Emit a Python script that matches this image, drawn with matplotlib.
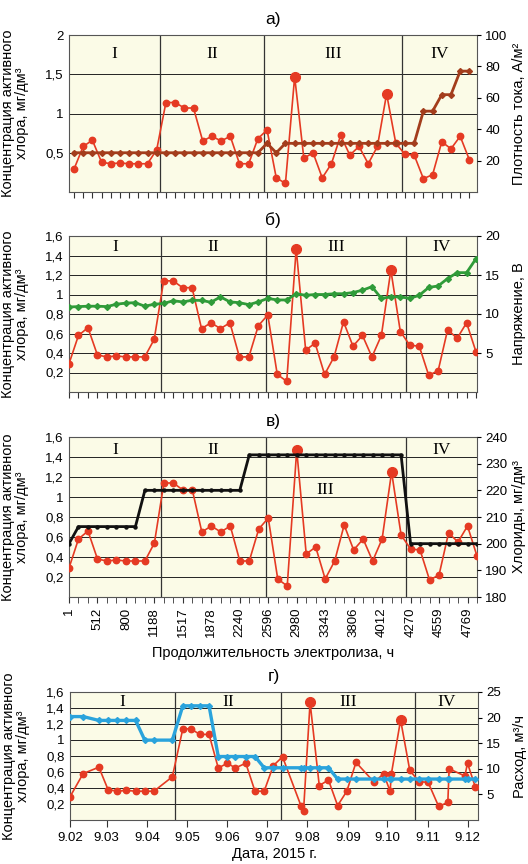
import numpy as np
import matplotlib
matplotlib.use("Agg")
import matplotlib.pyplot as plt
import matplotlib.dates as mdates
from matplotlib.ticker import FuncFormatter

plt.rcParams['font.family'] = ['Liberation Sans', 'DejaVu Sans']

# active chlorine, mg/dm3 (same samples in all four panels)
chlorine = [0.29, 0.58, 0.66, 0.38, 0.36, 0.37, 0.36, 0.36, 0.36, 0.54,
            1.14, 1.14, 1.07, 1.07, 0.65, 0.71, 0.65, 0.71, 0.36, 0.36,
            0.68, 0.79, 0.18, 0.11, 1.47, 0.43, 0.50, 0.18, 0.36, 0.72,
            0.47, 0.58, 0.36, 0.58, 1.25, 0.62, 0.48, 0.47, 0.17, 0.22,
            0.64, 0.55, 0.71, 0.41]
big_points = [24, 34]

# current density, A/m2
current_density = [25] * 21 + [31, 25] + [31] * 15 + [51.5, 51.5, 62, 62, 77, 77]

# voltage, V
voltage = [10.9, 10.95, 11.0, 11.0, 10.95, 11.25, 11.4, 11.45, 11.0, 11.25,
           11.35, 11.7, 11.55, 11.75, 11.75, 11.5, 12.2, 11.55, 11.45, 11.2,
           11.55, 12.0, 11.8, 11.8, 12.6, 12.4, 12.5, 12.5, 12.6, 12.6,
           12.75, 13.05, 13.5, 12.0, 12.2, 12.2, 12.0, 12.4, 13.4, 13.6,
           14.55, 15.3, 15.3, 17.1]

# chlorides, mg/dm3
chlorides = [200] + [206.4] * 7 + [220] * 11 + [233.3] * 17 + [200] * 8

# flow, m3/h
flow = [20.2, 20.2] + [19.45] * 5 + [15.6] * 3 + [22.3] * 4 + [12.4] * 5 + [10.2] * 8 + [8.0] * 17

sample_dates = ['2015-02-09', '2015-02-19', '2015-03-03', '2015-03-10', '2015-03-17',
                '2015-03-24', '2015-03-31', '2015-04-07', '2015-04-14', '2015-04-28',
                '2015-05-06', '2015-05-12', '2015-05-19', '2015-05-26', '2015-06-02',
                '2015-06-09', '2015-06-15', '2015-06-23', '2015-06-30', '2015-07-07',
                '2015-07-14', '2015-07-21', '2015-08-04', '2015-08-06', '2015-08-11',
                '2015-08-18', '2015-08-25', '2015-09-01', '2015-09-08', '2015-09-15',
                '2015-09-29', '2015-10-06', '2015-10-11', '2015-10-12', '2015-10-19',
                '2015-10-26', '2015-11-02', '2015-11-09', '2015-11-17', '2015-11-24',
                '2015-11-25', '2015-12-07', '2015-12-09', '2015-12-15']

hours_labels = ['1', '512', '800', '1188', '1517', '1878', '2240', '2596',
                '2980', '3343', '3806', '4012', '4270', '4559', '4769']

phases = ['I', 'II', 'III', 'IV']
phase_bounds_idx = {'a': [9.4, 20.7, 35.7], 'b': [9.7, 20.85, 35.6], 'v': [9.7, 20.8, 35.5]}
phase_bounds_date = ['2015-04-30', '2015-07-20', '2015-10-30']

RED = '#e53a23'
BG = '#fbfbe7'
YLABEL = 'Концентрация активного\nхлора, мг/дм³'

comma = FuncFormatter(lambda v, p: ('%g' % v).replace('.', ','))

fig = plt.figure(figsize=(5.28, 8.64), dpi=100)


def make_axes(left, right, top, bottom):
    W, H = 528, 864
    return fig.add_axes([left / W, 1 - bottom / H, (right - left) / W, (bottom - top) / H])


def style_left(ax, ymax, ticks):
    ax.set_facecolor(BG)
    ax.set_ylim(0, ymax)
    ax.set_yticks(ticks)
    ax.yaxis.set_major_formatter(comma)
    ax.grid(axis='y', color='#222222', lw=0.7)
    ax.set_axisbelow(True)
    ax.tick_params(axis='y', labelsize=9.5, length=0, pad=4)
    ax.set_ylabel(YLABEL, fontsize=10.5, linespacing=1.0)
    ax.yaxis.set_label_coords(-0.098, 0.5)
    for s in ax.spines.values():
        s.set_color('#555555')
        s.set_linewidth(0.8)


def style_right(ax2, lo, hi, ticks, label):
    ax2.set_ylim(lo, hi)
    ax2.set_yticks(ticks)
    ax2.tick_params(axis='y', labelsize=9.5, length=3, pad=3)
    ax2.set_ylabel(label, fontsize=10.5)
    ax2.yaxis.set_label_coords(1.085, 0.5)
    for s in ax2.spines.values():
        s.set_visible(False)


def plot_red(ax, x):
    ax.plot(x, chlorine, color=RED, lw=1.2, marker='o', ms=4.6, zorder=3)
    bx = [x[i] for i in big_points]
    by = [chlorine[i] for i in big_points]
    ax.plot(bx, by, ls='none', marker='o', ms=7, color=RED, zorder=3)


def phase_lines(ax, bounds, xlim, ypos, xpos=None):
    for b in bounds:
        ax.axvline(b, color='#333333', lw=0.9, zorder=2)
    edges = [xlim[0]] + list(bounds) + [xlim[1]]
    for k, name in enumerate(phases):
        cx = (edges[k] + edges[k + 1]) / 2 if xpos is None or xpos[k] is None else xpos[k]
        ax.text(cx, ypos[k], name, family='Liberation Serif', fontsize=12.5,
                ha='center', va='center', zorder=4)


idx = np.arange(len(chlorine))

# ---- а) current density
ax = make_axes(69, 477, 35, 192)
xl = (-0.54, 43.83)
style_left(ax, 2, [0.5, 1, 1.5, 2])
plot_red(ax, idx)
ax.set_xlim(*xl)
ax.set_xticks(idx)
ax.tick_params(axis='x', labelbottom=False, length=4, direction='out', color='#333333')
phase_lines(ax, phase_bounds_idx['a'], xl, [1.76] * 4)
ax.set_title('а)', fontsize=12.5, pad=8)
ax2 = ax.twinx()
ax2.plot(idx, current_density, color='#a33d1c', lw=2, marker='D', ms=3, zorder=4)
style_right(ax2, 0, 100, [20, 40, 60, 80, 100], 'Плотность тока, А/м²')
ax2.set_xlim(*xl)

# ---- б) voltage
ax = make_axes(69, 477, 236, 392)
xl = (0, 43.1)
style_left(ax, 1.6, np.arange(0.2, 1.61, 0.2).round(1))
plot_red(ax, idx)
ax.set_xlim(*xl)
ax.set_xticks(idx)
ax.tick_params(axis='x', labelbottom=False, length=4, direction='out', color='#333333')
phase_lines(ax, phase_bounds_idx['b'], xl, [1.49] * 4)
ax.set_title('б)', fontsize=12.5, pad=8)
ax2 = ax.twinx()
ax2.plot(idx, voltage, color='#2f9b39', lw=2, marker='D', ms=3, zorder=4)
style_right(ax2, 0, 20, [5, 10, 15, 20], 'Напряжение, В')
ax2.set_xlim(*xl)

# ---- в) chlorides
ax = make_axes(69, 477, 437, 597)
xl = (0, 43)
style_left(ax, 1.6, np.arange(0.2, 1.61, 0.2).round(1))
plot_red(ax, idx)
ax.set_xlim(*xl)
ax.set_xticks(idx, minor=True)
ax.set_xticks(idx[::3])
ax.set_xticklabels(hours_labels, rotation=90, fontsize=9.5)
ax.tick_params(axis='x', which='both', length=4, direction='out', color='#333333')
phase_lines(ax, phase_bounds_idx['v'], xl, [1.47, 1.47, 1.07, 1.47], xpos=[None, None, 27.0, None])
ax.set_title('в)', fontsize=12.5, pad=8)
ax.set_xlabel('Продолжительность электролиза, ч', fontsize=10.5, labelpad=6)
ax2 = ax.twinx()
ax2.plot(idx, chlorides, color='#111111', lw=2, marker='o', ms=2.2, zorder=4)
style_right(ax2, 180, 240, [180, 190, 200, 210, 220, 230, 240], 'Хлориды, мг/дм³')
ax2.set_xlim(*xl)

# ---- г) flow, by date
dates = mdates.date2num(np.array(sample_dates, dtype='datetime64[D]'))
ax = make_axes(70, 478, 692, 820)
xl = tuple(mdates.date2num(np.array(['2015-02-09', '2015-12-17'], dtype='datetime64[D]')))
style_left(ax, 1.6, np.arange(0.2, 1.61, 0.2).round(1))
plot_red(ax, dates)
ax.set_xlim(*xl)
month_ticks = mdates.date2num(np.array(['2015-%02d-09' % m for m in range(2, 13)], dtype='datetime64[D]'))
ax.set_xticks(month_ticks)
ax.xaxis.set_major_formatter(FuncFormatter(
    lambda v, p: '%d.%02d' % (mdates.num2date(v).day, mdates.num2date(v).month)))
ax.tick_params(axis='x', labelsize=9.5, length=5, direction='out', color='#333333')
bounds = mdates.date2num(np.array(phase_bounds_date, dtype='datetime64[D]'))
phase_lines(ax, bounds, xl, [1.48] * 4)
ax.set_title('г)', fontsize=12.5, pad=8)
ax.set_xlabel('Дата, 2015 г.', fontsize=10.5, labelpad=2)
ax2 = ax.twinx()
ax2.plot(dates, flow, color='#2aa3dc', lw=2.4, marker='D', ms=3, zorder=4)
style_right(ax2, 0, 25, [5, 10, 15, 20, 25], 'Расход, м³/ч')
ax2.set_xlim(*xl)

fig.savefig('out.png', dpi=100)
